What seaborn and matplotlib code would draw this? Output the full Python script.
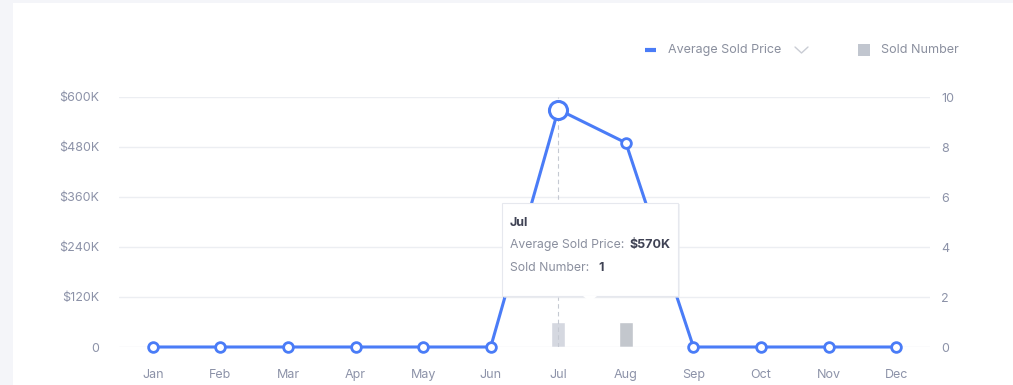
import numpy as np
import pandas as pd
import matplotlib
matplotlib.use("Agg")
import matplotlib.pyplot as plt
import seaborn as sns
from matplotlib.patches import FancyBboxPatch, Rectangle, Polygon
from matplotlib.lines import Line2D

months = ["Jan", "Feb", "Mar", "Apr", "May", "Jun", "Jul", "Aug", "Sep", "Oct", "Nov", "Dec"]
avg_price = [0, 0, 0, 0, 0, 0, 570000, 490000, 0, 0, 0, 0]
sold_number = [0, 0, 0, 0, 0, 0, 1, 1, 0, 0, 0, 0]
price_ticks = [0, 120000, 240000, 360000, 480000, 600000]
price_labels = ["0", "$120K", "$240K", "$360K", "$480K", "$600K"]
count_ticks = [0, 2, 4, 6, 8, 10]
hover_month = "Jul"

BLUE = "#4a7cf7"
BAR = "#c1c6cf"
BAR_HOVER = "#d3d7e2"
TICK = "#8c92a8"
GRID = "#eceef2"

W, H = 1013, 385
sns.set_theme(style="white")
plt.rcParams["font.family"] = ["Inter", "DejaVu Sans"]

df = pd.DataFrame({"month": months, "price": avg_price, "sold": sold_number})


def fx(px):
    return px / W


def fy(py):
    return 1 - py / H


fig = plt.figure(figsize=(W / 100, H / 100), dpi=100)
fig.patch.set_facecolor("#f4f5f9")
fig.add_artist(Rectangle((fx(13), 0), 1 - fx(13), fy(3), transform=fig.transFigure,
                         facecolor="white", edgecolor="none", zorder=0))

ax = fig.add_axes([fx(119), fy(347), fx(930) - fx(119), (347 - 97) / H])
ax2 = ax.twinx()

# bars on the count axis
bar_colors = [BAR_HOVER if m == hover_month else BAR for m in months]
sns.barplot(data=df, x="month", y="sold", order=months, palette=bar_colors, hue="month",
            legend=False, width=0.21, ax=ax2)
ax2.set_ylim(0, 10)
ax2.set_yticks(count_ticks)
ax2.set_ylabel("")

# hover line
hx = months.index(hover_month)
ax.axvline(hx, color="#c5c9d2", lw=0.8, ls=(0, (4, 3)), zorder=1)

sns.lineplot(data=df, x="month", y="price", sort=False, color=BLUE, lw=2.2,
             marker="o", markersize=7, markerfacecolor="white", markeredgecolor=BLUE,
             markeredgewidth=2, ax=ax, zorder=3, clip_on=False)
ax.plot(hx, avg_price[hx], "o", ms=13, mfc="white", mec=BLUE, mew=2.2, zorder=4, clip_on=False)

ax.set_zorder(ax2.get_zorder() + 1)
ax.patch.set_visible(False)
ax.set_xlim(-0.5, 11.5)
ax.set_ylim(0, 600000)
ax.set_yticks(price_ticks)
ax.set_yticklabels(price_labels)
ax.set_xlabel("")
ax.set_ylabel("")
ax.yaxis.grid(True, color=GRID, lw=1)
ax.set_axisbelow(True)

for a in (ax, ax2):
    for s in a.spines.values():
        s.set_visible(False)
    a.tick_params(length=0, labelsize=9, labelcolor=TICK)
ax.tick_params(axis="x", pad=16)
ax.tick_params(axis="y", pad=14)
ax2.tick_params(axis="y", pad=8)

# legend
fig.add_artist(Line2D([fx(645), fx(656)], [fy(50), fy(50)], color=BLUE, lw=3,
                      solid_capstyle="butt", transform=fig.transFigure))
fig.text(fx(668), fy(50), "Average Sold Price", fontsize=9, color="#8a8f9e", va="center")
fig.add_artist(Line2D([fx(795), fx(801.5), fx(808)], [fy(47), fy(53), fy(47)], color="#c9ccd4",
                      lw=1, transform=fig.transFigure))
fig.add_artist(Rectangle((fx(858), fy(56)), fx(12), 12 / H, transform=fig.transFigure,
                         facecolor=BAR, edgecolor="none"))
fig.text(fx(881), fy(50), "Sold Number", fontsize=9, color="#8a8f9e", va="center")

# tooltip
fig.add_artist(FancyBboxPatch((fx(504), fy(298)), fx(176), (298 - 204) / H,
                              boxstyle="square,pad=0", transform=fig.transFigure,
                              facecolor="#e9ebf0", edgecolor="none", zorder=9, alpha=0.6))
fig.add_artist(FancyBboxPatch((fx(502), fy(296)), fx(176), (296 - 203) / H,
                              boxstyle="square,pad=0", transform=fig.transFigure,
                              facecolor="white", edgecolor="#e6e8ee", lw=0.8, zorder=10))
fig.add_artist(Polygon([(fx(583), fy(296)), (fx(597), fy(296)), (fx(590), fy(302))],
                       closed=True, transform=fig.transFigure, facecolor="white",
                       edgecolor="none", zorder=11))
fig.text(fx(510), fy(223), hover_month, fontsize=9, color="#3f4254", fontweight="bold",
         va="center", zorder=12)
fig.text(fx(510), fy(245), "Average Sold Price:", fontsize=8.8, color="#8a8f9e", va="center", zorder=12)
fig.text(fx(629), fy(245), "$570K", fontsize=9, color="#3f4254", fontweight="bold", va="center", zorder=12)
fig.text(fx(510), fy(268), "Sold Number:", fontsize=8.8, color="#8a8f9e", va="center", zorder=12)
fig.text(fx(598), fy(268), "1", fontsize=9, color="#3f4254", fontweight="bold", va="center", zorder=12)

fig.savefig("out.png", dpi=100, facecolor=fig.get_facecolor())
